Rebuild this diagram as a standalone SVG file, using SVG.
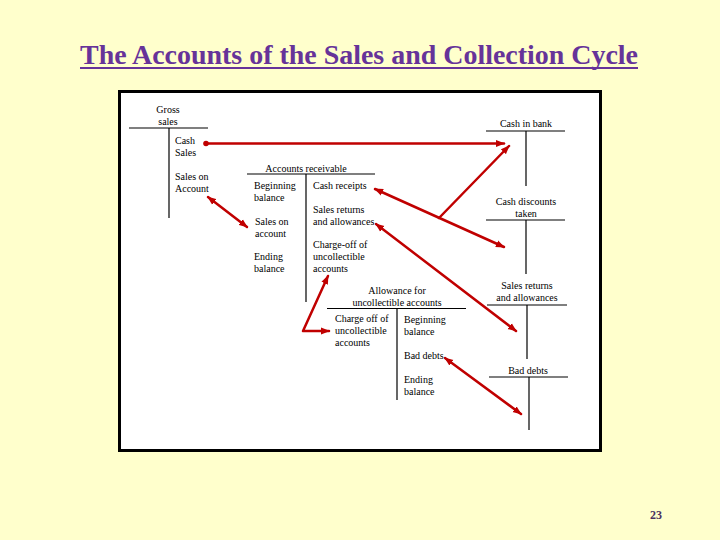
<svg xmlns="http://www.w3.org/2000/svg" width="720" height="540" viewBox="0 0 720 540">
<style>
.t{font-family:"Liberation Serif","Tinos","Times New Roman","Times","DejaVu Serif",serif;font-size:10px;fill:#000}
.c{text-anchor:middle}
.ln{stroke:#000;stroke-width:1.2;fill:none}
.ar{stroke:#C00000;stroke-width:2.5;fill:none;stroke-linecap:round;stroke-linejoin:round}
.ttl{font-family:"Liberation Serif","Tinos","Times New Roman","Times","DejaVu Serif",serif;font-size:27px;font-weight:bold;fill:#663399}
.pg{font-family:"Liberation Serif","Tinos","Times New Roman","Times","DejaVu Serif",serif;font-size:12px;font-weight:bold;fill:#4B3060}
</style>
<defs>
<marker id="ah" markerUnits="userSpaceOnUse" markerWidth="10" markerHeight="8" refX="8" refY="4" orient="auto-start-reverse">
<path d="M0,0.5 L9,4 L0,7.5 z" fill="#C00000"/>
</marker>
<marker id="dot" markerUnits="userSpaceOnUse" markerWidth="7" markerHeight="7" refX="3.5" refY="3.5">
<circle cx="3.5" cy="3.5" r="2.8" fill="#C00000"/>
</marker>
</defs>
<rect width="720" height="540" fill="#FFFFCC"/>
<g id="title">
<text class="ttl" x="359" y="64" text-anchor="middle" textLength="558" lengthAdjust="spacingAndGlyphs">The Accounts of the Sales and Collection Cycle</text>
<line x1="80" y1="68" x2="638" y2="68" stroke="#663399" stroke-width="2"/>
</g>
<rect id="panel" x="119.5" y="91.5" width="481" height="359" fill="#FFFFFF" stroke="#000" stroke-width="3"/>
<g id="gross-sales">
<text class="t c" x="168" y="113">Gross</text>
<text class="t c" x="168" y="125">sales</text>
<line class="ln" x1="129" y1="128" x2="208" y2="128"/>
<line class="ln" x1="169" y1="128" x2="169" y2="218"/>
<text class="t" x="175" y="144">Cash</text>
<text class="t" x="175" y="156">Sales</text>
<text class="t" x="175" y="180">Sales on</text>
<text class="t" x="175" y="192">Account</text>
</g>
<g id="cash-in-bank">
<text class="t c" x="526" y="127">Cash in bank</text>
<line class="ln" x1="486" y1="131" x2="565" y2="131"/>
<line class="ln" x1="526" y1="131" x2="526" y2="186"/>
</g>
<g id="cash-discounts">
<text class="t c" x="526" y="205">Cash discounts</text>
<text class="t c" x="526" y="217">taken</text>
<line class="ln" x1="486" y1="220" x2="565" y2="220"/>
<line class="ln" x1="526" y1="220" x2="526" y2="274"/>
</g>
<g id="sales-returns">
<text class="t c" x="527" y="289">Sales returns</text>
<text class="t c" x="527" y="301">and allowances</text>
<line class="ln" x1="487" y1="305" x2="567" y2="305"/>
<line class="ln" x1="527" y1="305" x2="527" y2="359"/>
</g>
<g id="bad-debts">
<text class="t c" x="528" y="374">Bad debts</text>
<line class="ln" x1="489" y1="377" x2="568" y2="377"/>
<line class="ln" x1="529" y1="377" x2="529" y2="430"/>
</g>
<g id="accounts-receivable">
<text class="t c" x="306" y="172">Accounts receivable</text>
<line class="ln" x1="247" y1="174" x2="375" y2="174"/>
<line class="ln" x1="306" y1="174" x2="306" y2="302"/>
<text class="t" x="254" y="189">Beginning</text>
<text class="t" x="254" y="201">balance</text>
<text class="t" x="255" y="225">Sales on</text>
<text class="t" x="255" y="237">account</text>
<text class="t" x="254" y="260">Ending</text>
<text class="t" x="254" y="272">balance</text>
<text class="t" x="313" y="189">Cash receipts</text>
<text class="t" x="313" y="213">Sales returns</text>
<text class="t" x="313" y="225">and allowances</text>
<text class="t" x="313" y="248">Charge-off of</text>
<text class="t" x="313" y="260">uncollectible</text>
<text class="t" x="313" y="272">accounts</text>
</g>
<g id="allowance">
<text class="t c" x="397" y="294">Allowance for</text>
<text class="t c" x="397" y="306">uncollectible accounts</text>
<line class="ln" x1="327" y1="308.5" x2="466" y2="308.5"/>
<line class="ln" x1="397" y1="308.5" x2="397" y2="400"/>
<text class="t" x="335" y="322">Charge off of</text>
<text class="t" x="335" y="334">uncollectible</text>
<text class="t" x="335" y="346">accounts</text>
<text class="t" x="404" y="323">Beginning</text>
<text class="t" x="404" y="335">balance</text>
<text class="t" x="404" y="359">Bad debts</text>
<text class="t" x="404" y="383">Ending</text>
<text class="t" x="404" y="395">balance</text>
</g>
<g id="connectors">
<line class="ar" x1="206" y1="143.5" x2="504" y2="143.5" marker-start="url(#dot)" marker-end="url(#ah)"/>
<line class="ar" x1="208" y1="197" x2="247" y2="227" marker-start="url(#ah)" marker-end="url(#ah)"/>
<line class="ar" x1="375" y1="189" x2="504" y2="247" marker-start="url(#ah)" marker-end="url(#ah)"/>
<line class="ar" x1="439" y1="218" x2="509" y2="146" marker-end="url(#ah)"/>
<line class="ar" x1="376" y1="224" x2="516" y2="331" marker-start="url(#ah)" marker-end="url(#ah)"/>
<polyline class="ar" points="328,276 303,331 329,331" marker-start="url(#ah)" marker-end="url(#ah)"/>
<line class="ar" x1="445" y1="358" x2="521" y2="414" marker-start="url(#ah)" marker-end="url(#ah)"/>
</g>
<text id="page" class="pg" x="656" y="519" text-anchor="middle">23</text>
</svg>
